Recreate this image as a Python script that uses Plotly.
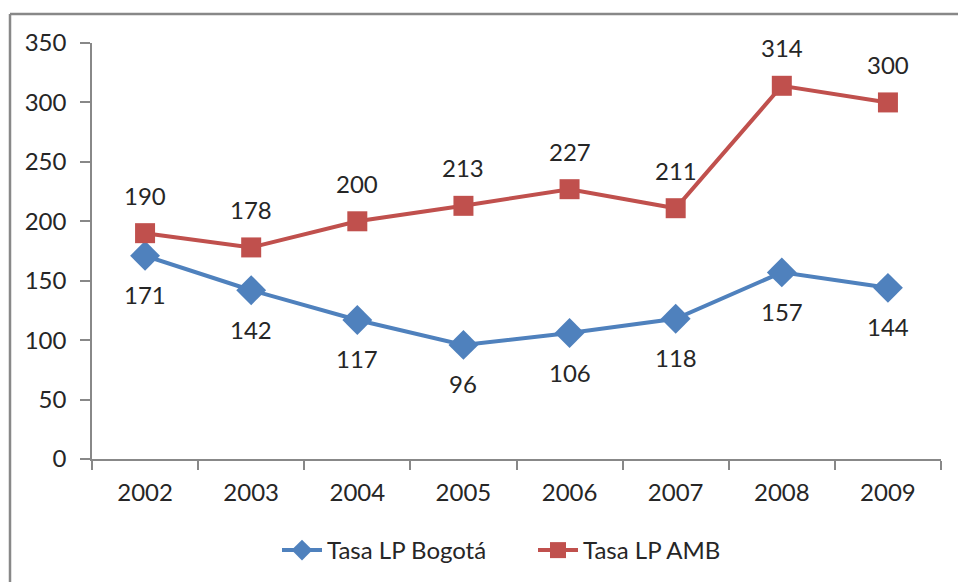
import plotly.graph_objects as go

years = ["2002", "2003", "2004", "2005", "2006", "2007", "2008", "2009"]
bogota = [171, 142, 117, 96, 106, 118, 157, 144]
amb = [190, 178, 200, 213, 227, 211, 314, 300]
y_ticks = [0, 50, 100, 150, 200, 250, 300, 350]

BLUE = "#4F81BD"
RED = "#C0504D"
TXT = "#262626"
AX = "#888888"
FONT = "Lato"
FS = 24

W, H = 958, 582
L, R, T, B = 92, 17, 43, 123
PW, PH = W - L - R, H - T - B

fig = go.Figure()
fig.add_trace(go.Scatter(
    x=years, y=bogota, name="Tasa LP Bogotá", mode="lines+markers",
    line=dict(color=BLUE, width=4),
    marker=dict(symbol="diamond", size=23, color=BLUE),
))
fig.add_trace(go.Scatter(
    x=years, y=amb, name="Tasa LP AMB", mode="lines+markers",
    line=dict(color=RED, width=4),
    marker=dict(symbol="square", size=20, color=RED),
))

annotations = []
for i, yv in enumerate(bogota):
    annotations.append(dict(x=i, y=yv, text=str(yv), showarrow=False, yshift=-39,
                            font=dict(family=FONT, size=FS, color=TXT)))
for i, yv in enumerate(amb):
    annotations.append(dict(x=i, y=yv, text=str(yv), showarrow=False, yshift=38,
                            font=dict(family=FONT, size=FS, color=TXT)))

top_px = 14
left_px = 10
shapes = [
    dict(type="line", xref="paper", yref="paper",
         x0=(left_px - L) / PW, x1=(W + 40 - L) / PW,
         y0=(H - B - top_px) / PH, y1=(H - B - top_px) / PH,
         line=dict(color=AX, width=2.5)),
    dict(type="line", xref="paper", yref="paper",
         x0=(left_px - L) / PW, x1=(left_px - L) / PW,
         y0=(H - B - top_px) / PH, y1=(H - B - H - 40) / PH,
         line=dict(color=AX, width=2.5)),
]

fig.update_layout(
    width=W, height=H,
    margin=dict(l=L, r=R, t=T, b=B, autoexpand=False),
    paper_bgcolor="white", plot_bgcolor="white",
    font=dict(family=FONT, size=FS, color=TXT),
    showlegend=True,
    legend=dict(orientation="h", x=(277 - L) / PW, xanchor="left", y=-0.22, yanchor="middle",
                font=dict(family=FONT, size=FS, color=TXT), itemwidth=40,
                entrywidth=201, entrywidthmode="pixels",
                tracegroupgap=0),
    annotations=annotations,
    shapes=shapes,
)
fig.update_xaxes(
    type="category", categoryorder="array", categoryarray=years,
    range=[-0.5, len(years) - 0.5],
    showgrid=False, zeroline=False,
    showline=True, linecolor=AX, linewidth=1.5,
    ticks="outside", tickson="boundaries", ticklen=9, tickcolor=AX, tickwidth=1.5,
    ticklabelstandoff=11,
    tickfont=dict(family=FONT, size=FS, color=TXT), tickangle=0,
)
fig.update_yaxes(
    range=[0, 350], tickvals=y_ticks, showgrid=False, zeroline=False,
    showline=True, linecolor=AX, linewidth=1.5,
    ticks="outside", ticklen=10, tickcolor=AX, tickwidth=1.5,
    ticklabelstandoff=9,
    tickfont=dict(family=FONT, size=FS, color=TXT),
)

fig.write_html(
    "out.html",
    config={"displayModeBar": False},
    post_script="document.body.style.margin='0';document.body.style.overflow='hidden';",
)
